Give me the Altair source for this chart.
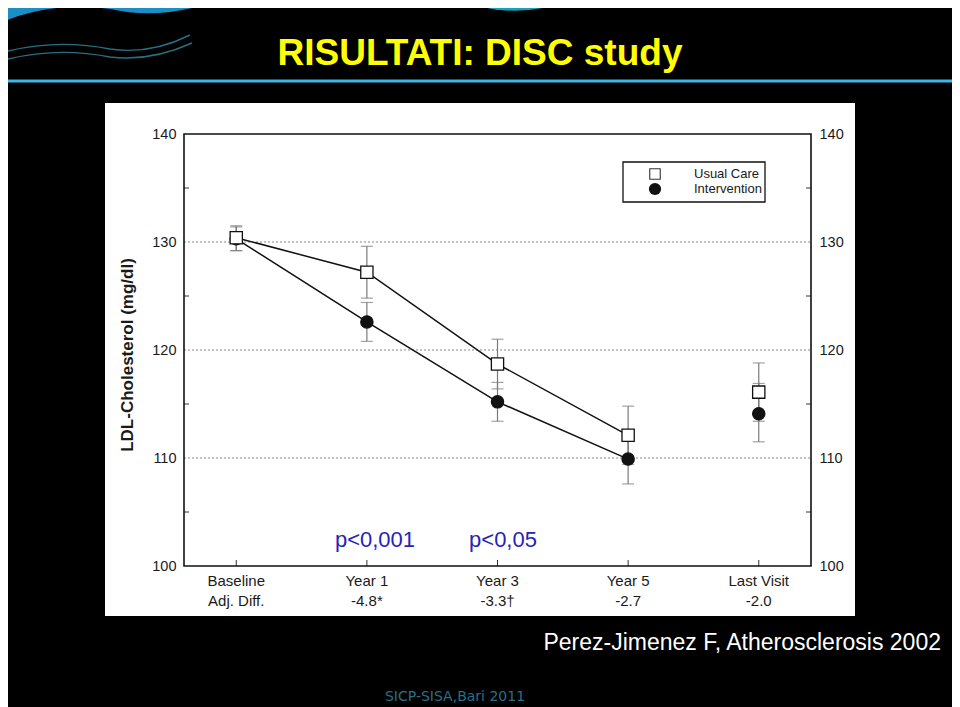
import altair as alt
import pandas as pd

# ---------------- data ----------------
categories = ["Baseline", "Year 1", "Year 3", "Year 5", "Last Visit"]
adj_diff = ["Adj. Diff.", "-4.8*", "-3.3\u2020", "-2.7", "-2.0"]
series_names = ["Usual Care", "Intervention"]
uc_mean = [130.4, 127.2, 118.7, 112.1, 116.1]
uc_hi = [131.5, 129.6, 121.0, 114.8, 118.8]
uc_lo = [129.2, 124.8, 116.4, 109.4, 113.4]
int_mean = [130.3, 122.6, 115.2, 109.9, 114.1]
int_hi = [131.4, 124.4, 117.0, 112.2, 116.9]
int_lo = [129.2, 120.8, 113.4, 107.6, 111.5]
connected = [True, True, True, True, False]
y_ticks = [100, 110, 120, 130, 140]
grid_vals = [110, 120, 130]
minor_vals = [105, 115, 125, 135]
p_labels = ["p<0,001", "p<0,05"]

rows = []
# Intervention first so the Usual Care square is drawn on top at Baseline
for name, m, hi, lo in [("Intervention", int_mean, int_hi, int_lo),
                        ("Usual Care", uc_mean, uc_hi, uc_lo)]:
    for i, c in enumerate(categories):
        rows.append({"series": name, "cat": c, "mean": m[i], "hi": hi[i],
                     "lo": lo[i], "conn": connected[i]})
df = pd.DataFrame(rows)
df_line = df[df["conn"]]
cat_df = pd.DataFrame({"cat": categories, "diff": adj_diff})
dummy = pd.DataFrame({"d": [0]})

W, H = 627, 432
FONT = "Liberation Sans"
xscale = alt.Scale(type="point", domain=categories, padding=0.4)
yscale = alt.Scale(domain=[100, 140], nice=False, zero=False)
X = alt.X("cat:N", scale=xscale, axis=None)
shape_scale = alt.Scale(domain=series_names, range=["square", "circle"])
fill_scale = alt.Scale(domain=series_names, range=["white", "#111"])

def ax(orient):
    return alt.Axis(orient=orient, values=y_ticks, grid=False, ticks=False,
                    domain=False, labelFontSize=14.5, labelColor="#1a1a1a",
                    labelFont=FONT, labelPadding=8, title=None, zindex=1)

# ---------------- decorations ----------------
wave_blob = "M -1 0 L -0.1 0 Q 0.4 0.09 0.92 0.01 L 0.92 0.08 Q 0.5 0.18 0.1 0.09 Q -0.5 0.01 -1 0.23 Z"
wave_l1 = "M -1 0.53 Q -0.45 0.38 0.1 0.49 Q 0.5 0.55 0.9 0.35"
wave_l2 = "M -1 0.61 Q -0.45 0.46 0.1 0.57 Q 0.5 0.62 0.92 0.43"
top_blob = "M -0.45 0 L 0.5 0 L 0.48 0.04 Q 0.2 0.13 -0.1 0.1 Q -0.3 0.08 -0.45 0 Z"

deco = [
    alt.Chart(dummy).mark_point(shape=wave_blob, filled=True, fill="#1b8fc4",
                                strokeWidth=0, size=40000, opacity=1)
    .encode(x=alt.value(-84), y=alt.value(-134)),
    alt.Chart(dummy).mark_point(shape=wave_l1, filled=False, stroke="#2a6e84",
                                strokeWidth=1.4, size=40000, opacity=1)
    .encode(x=alt.value(-84), y=alt.value(-134)),
    alt.Chart(dummy).mark_point(shape=wave_l2, filled=False, stroke="#2a6e84",
                                strokeWidth=1.4, size=40000, opacity=1)
    .encode(x=alt.value(-84), y=alt.value(-134)),
    alt.Chart(dummy).mark_point(shape=top_blob, filled=True, fill="#17a2b4",
                                strokeWidth=0, size=40000, opacity=1)
    .encode(x=alt.value(326), y=alt.value(-134)),
]

title = alt.Chart(dummy).mark_text(
    text="RISULTATI: DISC study", font=FONT, fontSize=37, fontWeight="bold",
    color="#ffff00", align="center", baseline="alphabetic"
).encode(x=alt.value(296), y=alt.value(-69))

blue_line = alt.Chart(dummy).mark_rule(color="#3db5e6", strokeWidth=3).encode(
    x=alt.value(-184), x2=alt.value(776), y=alt.value(-53))

panel = alt.Chart(dummy).mark_rect(color="white").encode(
    x=alt.value(-79), x2=alt.value(671), y=alt.value(-31), y2=alt.value(482))

# ---------------- axes / grid ----------------
grid = alt.Chart(pd.DataFrame({"v": grid_vals})).mark_rule(
    color="#8a8a8a", strokeWidth=1, strokeDash=[2, 2]
).encode(y=alt.Y("v:Q", scale=yscale, axis=None), x=alt.value(0), x2=alt.value(W))

left_ticks = alt.Chart(pd.DataFrame({"v": minor_vals})).mark_rule(
    color="#333", strokeWidth=1
).encode(y=alt.Y("v:Q", scale=yscale, axis=ax("left")), x=alt.value(0), x2=alt.value(5))

right_ticks = alt.Chart(pd.DataFrame({"v": minor_vals})).mark_rule(
    color="#333", strokeWidth=1
).encode(y=alt.Y("v:Q", scale=yscale, axis=ax("right")), x=alt.value(W - 5), x2=alt.value(W))

bottom_ticks = alt.Chart(cat_df).mark_rule(color="#333", strokeWidth=1).encode(
    x=X, y=alt.value(H - 6), y2=alt.value(H))

frame = alt.Chart(dummy).mark_rect(
    fillOpacity=0, stroke="#111", strokeWidth=1.6
).encode(x=alt.value(0), x2=alt.value(W), y=alt.value(0), y2=alt.value(H))

# ---------------- data marks ----------------
err = alt.Chart(df).mark_rule(color="#7a7a7a", strokeWidth=1.2).encode(
    x=X, y=alt.Y("lo:Q", scale=yscale, axis=None), y2="hi:Q")
cap_lo = alt.Chart(df).mark_tick(color="#7a7a7a", thickness=1.2, size=12).encode(
    x=X, y=alt.Y("lo:Q", scale=yscale, axis=None))
cap_hi = alt.Chart(df).mark_tick(color="#7a7a7a", thickness=1.2, size=12).encode(
    x=X, y=alt.Y("hi:Q", scale=yscale, axis=None))

lines = alt.Chart(df_line).mark_line(color="#111", strokeWidth=1.5).encode(
    x=X, y=alt.Y("mean:Q", scale=yscale, axis=None), detail="series:N")

markers = alt.Chart(df).mark_point(
    filled=True, size=150, stroke="#111", strokeWidth=1.3, opacity=1
).encode(
    x=X, y=alt.Y("mean:Q", scale=yscale, axis=None),
    shape=alt.Shape("series:N", scale=shape_scale, legend=None),
    fill=alt.Fill("series:N", scale=fill_scale, legend=None),
)

# ---------------- legend box ----------------
leg_box = alt.Chart(dummy).mark_rect(fill="white", stroke="#111", strokeWidth=1.3).encode(
    x=alt.value(439), x2=alt.value(581), y=alt.value(28), y2=alt.value(68))
leg_sym = [
    alt.Chart(dummy).mark_point(shape="square", filled=True, fill="white", stroke="#333",
                                strokeWidth=1.1, size=110, opacity=1)
    .encode(x=alt.value(471), y=alt.value(40)),
    alt.Chart(dummy).mark_point(shape="circle", filled=True, fill="#111", size=150, opacity=1)
    .encode(x=alt.value(471), y=alt.value(55)),
]
leg_txt = [
    alt.Chart(dummy).mark_text(text=series_names[0], font=FONT, fontSize=13, color="#1a1a1a",
                               align="left", baseline="middle")
    .encode(x=alt.value(510), y=alt.value(40)),
    alt.Chart(dummy).mark_text(text=series_names[1], font=FONT, fontSize=13, color="#1a1a1a",
                               align="left", baseline="middle")
    .encode(x=alt.value(510), y=alt.value(55)),
]

# ---------------- text ----------------
xlab1 = alt.Chart(cat_df).mark_text(font=FONT, fontSize=15, color="#1a1a1a", baseline="middle").encode(
    x=X, y=alt.value(447), text="cat:N")
xlab2 = alt.Chart(cat_df).mark_text(font=FONT, fontSize=15, color="#1a1a1a", baseline="middle").encode(
    x=X, y=alt.value(467), text="diff:N")

ytitle = alt.Chart(dummy).mark_text(
    text="LDL-Cholesterol (mg/dl)", font=FONT, fontSize=17, fontWeight="bold",
    color="#1a1a1a", angle=270, align="center", baseline="middle"
).encode(x=alt.value(-56), y=alt.value(221))

p1 = alt.Chart(dummy).mark_text(text=p_labels[0], font=FONT, fontSize=22, color="#2424b8",
                                align="center", baseline="middle").encode(x=alt.value(191), y=alt.value(406))
p2 = alt.Chart(dummy).mark_text(text=p_labels[1], font=FONT, fontSize=22, color="#2424b8",
                                align="center", baseline="middle").encode(x=alt.value(319), y=alt.value(406))

cite = alt.Chart(dummy).mark_text(
    text="Perez-Jimenez F, Atherosclerosis 2002", font=FONT, fontSize=23,
    color="white", align="right", baseline="middle"
).encode(x=alt.value(757), y=alt.value(509))

footer = alt.Chart(dummy).mark_text(
    text="SICP-SISA,Bari 2011", font="DejaVu Sans", fontSize=14,
    color="#2b6f86", align="center", baseline="middle"
).encode(x=alt.value(271), y=alt.value(563))

chart = alt.layer(
    *deco, title, blue_line, panel, grid, left_ticks, right_ticks, bottom_ticks,
    frame, err, cap_lo, cap_hi, lines, markers, leg_box, *leg_sym, *leg_txt,
    xlab1, xlab2, ytitle, p1, p2, cite, footer
).resolve_axis(y="independent").properties(
    width=W, height=H,
    padding={"left": 176, "top": 126, "right": 141, "bottom": 141},
    autosize=alt.AutoSizeParams(type="none"),
).configure(background="black").configure_view(stroke=None)

chart.save("out.html", embed_options={"renderer": "svg", "actions": False})
